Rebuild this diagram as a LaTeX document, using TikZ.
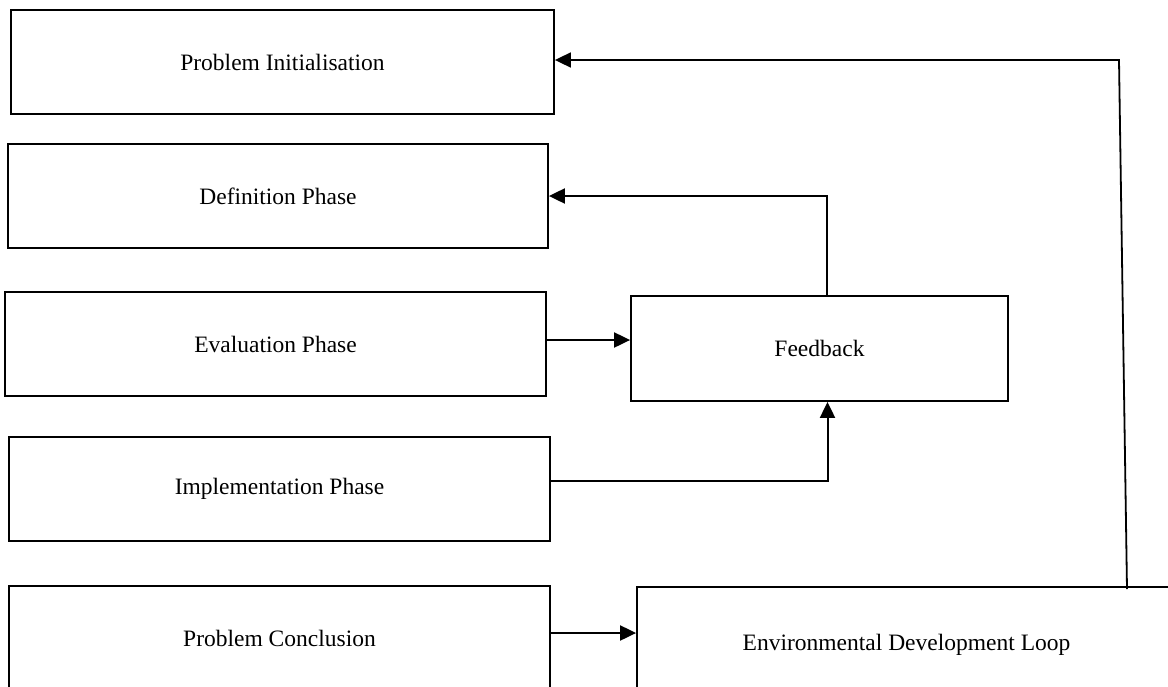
\documentclass[tikz,border=0pt]{standalone}
\usepackage{fontspec}
\setmainfont{Liberation Serif}
\usetikzlibrary{arrows.meta}
\tikzset{box/.style={draw,line width=1.8pt,inner sep=0pt,font=\fontsize{23.5}{28}\selectfont},
	arr/.style={line width=2pt,-{Triangle[length=16pt,width=15pt]}}}

\begin{document}
\begin{tikzpicture}[x=1pt,y=-1pt]
\useasboundingbox (0,0) rectangle (1168,686);
% left column
\node[box,minimum width=543pt,minimum height=104pt] (init) at (282.5,62) {Problem Initialisation};
\node[box,minimum width=540pt,minimum height=104pt] (defn) at (278,196) {Definition Phase};
\node[box,minimum width=541pt,minimum height=104pt] (eval) at (275.5,344) {Evaluation Phase};
\node[box,minimum width=541pt,minimum height=104pt] (impl) at (279.5,489) {Implementation Phase};
\node[box,minimum width=541pt,minimum height=104pt] (concl) at (279.5,638) {Problem Conclusion};
% right side
\node[box,minimum width=377pt,minimum height=105pt] (fb) at (819.5,348.5) {Feedback};
\node[box,minimum width=539pt,minimum height=116pt] (env) at (906.5,645) {Environmental Development Loop};
\coordinate (loopbot) at (1127,589);
\coordinate (looptop) at (1119,60);
% arrows
\draw[arr] ([yshift=4pt]eval.east) -- ([yshift=4pt]eval.east -| fb.west);
\draw[arr] ([yshift=8pt]impl.east) -| ([xshift=8pt]fb.south);
\draw[arr] ([xshift=7pt]fb.north) |- (defn.east);
\draw[arr] ([yshift=5pt]concl.east) -- ([yshift=5pt]concl.east -| env.west);
\draw[arr,line width=1.8pt] (loopbot) -- (looptop) -- ([yshift=2pt]init.east);
\end{tikzpicture}
\end{document}
